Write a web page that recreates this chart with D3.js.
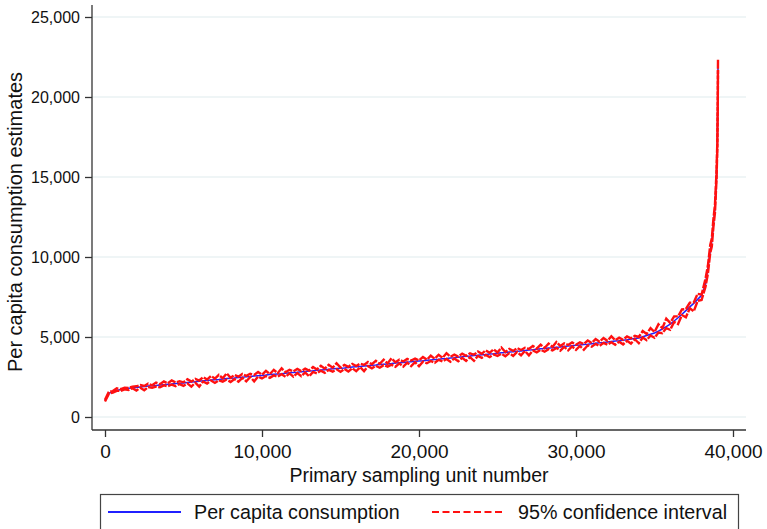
<!DOCTYPE html>
<html>
<head>
<meta charset="utf-8">
<script src="https://d3js.org/d3.v7.min.js"></script>
<style>
    body { margin: 0; background: #fff; }
    svg { display: block; font-family: "Liberation Sans", Arial, sans-serif; }
</style>
</head>
<body>
<div id="drawing_region"></div>
<script>
// primary sampling unit number (sorted by estimate)
const psu = [0,250,500,750,1000,1250,1500,1750,2000,2250,
    2500,2750,3000,3250,3500,3750,4000,4250,4500,4750,
    5000,5250,5500,5750,6000,6250,6500,6750,7000,7250,
    7500,7750,8000,8250,8500,8750,9000,9250,9500,9750,
    10000,10250,10500,10750,11000,11250,11500,11750,12000,12250,
    12500,12750,13000,13250,13500,13750,14000,14250,14500,14750,
    15000,15250,15500,15750,16000,16250,16500,16750,17000,17250,
    17500,17750,18000,18250,18500,18750,19000,19250,19500,19750,
    20000,20250,20500,20750,21000,21250,21500,21750,22000,22250,
    22500,22750,23000,23250,23500,23750,24000,24250,24500,24750,
    25000,25250,25500,25750,26000,26250,26500,26750,27000,27250,
    27500,27750,28000,28250,28500,28750,29000,29250,29500,29750,
    30000,30250,30500,30750,31000,31250,31500,31750,32000,32250,
    32500,32750,33000,33250,33500,33750,34000,34250,34500,34750,
    35000,35250,35500,35750,36000,36250,36500,36750,37000,37250,
    37500,37750,38000,38250,38400,38550,38650,38750,38850,38950,
    39000,39030,39045];

// per capita consumption estimate
const pcc = [1050,1480,1600,1660,1720,1750,1790,1820,1850,1880,
    1900,1930,1950,1970,2000,2020,2040,2060,2090,2110,
    2130,2160,2180,2210,2230,2260,2280,2310,2330,2350,
    2380,2400,2420,2440,2470,2490,2510,2530,2560,2580,
    2600,2620,2650,2670,2690,2710,2740,2760,2780,2800,
    2830,2850,2870,2890,2920,2940,2960,2980,3010,3030,
    3050,3070,3100,3120,3140,3160,3190,3210,3230,3250,
    3280,3300,3320,3340,3370,3390,3410,3430,3460,3480,
    3500,3520,3550,3570,3590,3610,3640,3660,3690,3710,
    3740,3760,3790,3810,3840,3860,3890,3910,3940,3960,
    3990,4010,4030,4060,4080,4110,4130,4160,4180,4210,
    4230,4260,4280,4310,4330,4360,4380,4410,4430,4460,
    4480,4500,4530,4550,4580,4610,4640,4660,4690,4720,
    4750,4770,4800,4830,4870,4900,4940,5020,5090,5170,
    5250,5370,5500,5650,5800,6000,6200,6420,6650,6880,
    7100,7350,7600,8300,9300,10400,11000,12000,13100,15000,
    17000,19500,22000];

// 95% confidence interval, upper bound
const ciHi = [1070,1590,1620,1790,1740,1830,1820,1900,1920,2000,
    1940,2090,1980,2150,2050,2220,2100,2290,2160,2240,
    2170,2360,2210,2380,2280,2490,2340,2570,2400,2630,
    2420,2730,2450,2630,2520,2690,2570,2700,2630,2810,
    2640,2880,2680,2950,2740,3040,2800,2950,2850,3000,
    2870,3020,2900,3120,2970,3200,3020,3260,3080,3360,
    3090,3260,3130,3320,3190,3330,3250,3440,3300,3510,
    3320,3580,3350,3670,3420,3580,3470,3630,3530,3650,
    3540,3750,3580,3830,3640,3890,3700,3990,3760,3900,
    3780,3960,3820,3980,3890,4090,3950,4170,4010,4240,
    4030,4340,4060,4250,4130,4310,4190,4330,4250,4440,
    4270,4520,4310,4590,4380,4690,4440,4600,4500,4660,
    4520,4670,4560,4780,4630,4870,4700,4940,4760,5050,
    4790,4960,4830,5030,4920,5070,5000,5370,5190,5560,
    5310,5790,5550,6150,5880,6290,6290,6720,6750,7140,
    7160,7700,7650,8650,9450,10750,11150,12350,13250,15350,
    17150,19800,22400];

// 95% confidence interval, lower bound
const ciLo = [970,1450,1530,1630,1630,1730,1690,1800,1650,1830,
    1670,1870,1820,1900,1860,1980,1920,2030,1930,2060,
    1950,2100,1900,2140,1900,2220,2090,2280,2130,2300,
    2210,2340,2190,2370,2210,2450,2230,2500,2230,2530,
    2410,2560,2450,2600,2520,2670,2510,2730,2520,2750,
    2550,2790,2540,2820,2730,2900,2760,2950,2840,2980,
    2820,3010,2840,3050,2860,3120,2860,3180,3040,3200,
    3080,3240,3150,3270,3140,3350,3150,3400,3180,3430,
    3170,3460,3360,3500,3390,3570,3470,3630,3460,3660,
    3480,3700,3510,3740,3510,3820,3700,3880,3740,3910,
    3820,3950,3800,3990,3820,4070,3850,4130,3850,4160,
    4040,4200,4080,4240,4160,4320,4150,4380,4170,4410,
    4200,4440,4200,4480,4390,4570,4440,4630,4520,4670,
    4520,4710,4540,4760,4590,4860,4610,4970,4800,5090,
    4950,5280,5240,5550,5450,5940,5810,6370,6230,6800,
    6600,7260,7310,8150,8950,10250,10650,11850,12750,14850,
    16700,19300,21700];

const xTicks = [0, 10000, 20000, 30000, 40000];
const yTicks = [0, 5000, 10000, 15000, 20000, 25000];
const legendLabels = ['Per capita consumption', '95% confidence interval'];

var config = {
    parent: '#drawing_region',
    width: 767,
    height: 529,
    xtitle: 'Primary sampling unit number',
    ytitle: 'Per capita consumption estimates'
};

class LineChart {

    constructor( config ) {
        this.config = config;
        this.data = psu.map( (x, i) => ({ x: x, y: pcc[i], lo: ciLo[i], hi: ciHi[i] }) );
        this.init();
    }

    init() {
        let self = this;

        // plot frame (axis lines) and the tick range inside it
        self.frame = { left: 92, right: 746, top: 5, bottom: 430 };

        self.svg = d3.select( self.config.parent )
            .append('svg')
            .attr('width', self.config.width)
            .attr('height', self.config.height);

        self.xscale = d3.scaleLinear().domain([0, 40000]).range([105, 733]);
        self.yscale = d3.scaleLinear().domain([0, 25000]).range([417, 17]);

        self.line = key => d3.line()
            .x( d => self.xscale(d.x) )
            .y( d => self.yscale(d[key]) );
    }

    render() {
        let self = this;
        const f = self.frame;

        // grid
        self.svg.append('g')
            .selectAll('line')
            .data(yTicks)
            .join('line')
            .attr('x1', f.left).attr('x2', f.right)
            .attr('y1', d => self.yscale(d)).attr('y2', d => self.yscale(d))
            .attr('stroke', '#eaf2f3')
            .attr('stroke-width', 1.5);

        // estimate then CI bounds on top
        self.svg.append('path')
            .attr('d', self.line('y')(self.data))
            .attr('stroke', '#2020ff')
            .attr('stroke-width', 1.5)
            .attr('fill', 'none');

        ['hi', 'lo'].forEach( k => {
            self.svg.append('path')
                .attr('d', self.line(k)(self.data))
                .attr('stroke', '#ff1010')
                .attr('stroke-width', 2.4)
                .attr('stroke-dasharray', '9,1.5')
                .attr('fill', 'none');
        });

        // axes
        const yaxis = d3.axisLeft(self.yscale)
            .tickValues(yTicks).tickSize(7).tickPadding(5)
            .tickFormat(d3.format(','));
        const xaxis = d3.axisBottom(self.xscale)
            .tickValues(xTicks).tickSize(7).tickPadding(8)
            .tickFormat(d3.format(','));

        const gy = self.svg.append('g')
            .attr('transform', `translate(${f.left},0)`)
            .call(yaxis);
        gy.selectAll('text').attr('font-size', '16px');

        const gx = self.svg.append('g')
            .attr('transform', `translate(0,${f.bottom})`)
            .call(xaxis);
        gx.selectAll('text').attr('font-size', '19px');

        [gx, gy].forEach( g => {
            g.select('.domain').remove();
            g.selectAll('line').attr('stroke', '#333').attr('stroke-width', 1.3);
            g.selectAll('text').attr('fill', '#111').attr('font-family', '"Liberation Sans", Arial, sans-serif');
        });

        self.svg.append('line')
            .attr('x1', f.left).attr('x2', f.left)
            .attr('y1', f.top).attr('y2', f.bottom)
            .attr('stroke', '#333').attr('stroke-width', 1.3);
        self.svg.append('line')
            .attr('x1', f.left).attr('x2', f.right)
            .attr('y1', f.bottom).attr('y2', f.bottom)
            .attr('stroke', '#333').attr('stroke-width', 1.3);

        // axis titles
        self.svg.append('text')
            .attr('x', (f.left + f.right) / 2)
            .attr('y', 482)
            .attr('text-anchor', 'middle')
            .attr('font-size', '19.5px')
            .attr('fill', '#111')
            .text(self.config.xtitle);

        self.svg.append('text')
            .attr('transform', 'translate(22,222) rotate(-90)')
            .attr('text-anchor', 'middle')
            .attr('font-size', '20px')
            .attr('fill', '#111')
            .text(self.config.ytitle);

        // legend
        const lg = self.svg.append('g');
        lg.append('rect')
            .attr('x', 100.5).attr('y', 494.5)
            .attr('width', 638).attr('height', 45)
            .attr('fill', 'white')
            .attr('stroke', '#444')
            .attr('stroke-width', 1.2);

        const items = [
            { x: 108, color: '#2020ff', dash: null, label: legendLabels[0] },
            { x: 432, color: '#ff1010', dash: '7,3.5', label: legendLabels[1] }
        ];
        items.forEach( it => {
            lg.append('line')
                .attr('x1', it.x).attr('x2', it.x + 73)
                .attr('y1', 512).attr('y2', 512)
                .attr('stroke', it.color)
                .attr('stroke-width', 2)
                .attr('stroke-dasharray', it.dash);
            lg.append('text')
                .attr('x', it.x + 86)
                .attr('y', 518.5)
                .attr('font-size', '19.7px')
                .attr('fill', '#111')
                .text(it.label);
        });
    }
}

const line_chart = new LineChart( config );
line_chart.render();
</script>
</body>
</html>
